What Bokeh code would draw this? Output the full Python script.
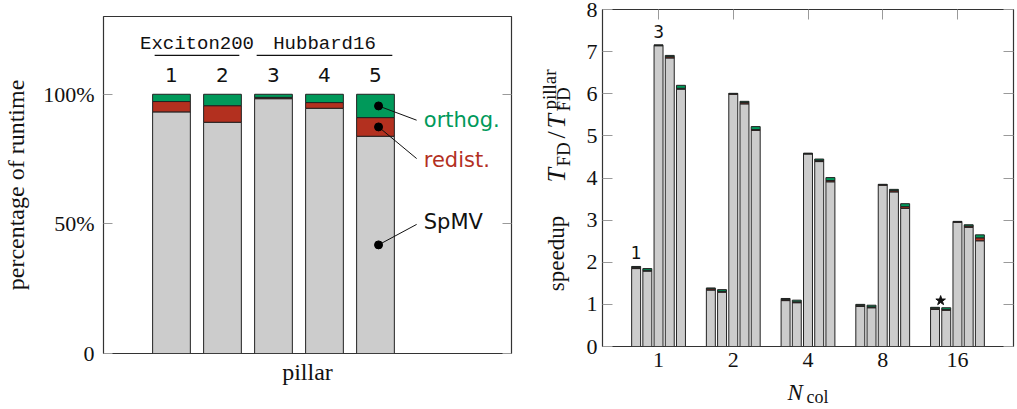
import numpy as np
from bokeh.plotting import figure
from bokeh.models import Range1d, FixedTicker, LinearAxis, CustomJSTickFormatter
from bokeh.layouts import row, column
from bokeh.embed import file_html
from bokeh.resources import INLINE
from bokeh.core.properties import value

# ---------------- data ----------------
# left panel: share of runtime (%) per matrix
matrices = ["1", "2", "3", "4", "5"]
matrix_groups = ["Exciton200", "Hubbard16"]
group_members = [[0, 1], [2, 3, 4]]
share_spmv = [93.2, 89.2, 98.3, 94.6, 83.8]
share_redist = [4.0, 6.4, 0.5, 2.2, 7.2]
share_orthog = [2.8, 4.4, 1.2, 3.2, 9.0]
pct_ticks = [0, 50, 100]
pct_tick_labels = ["0", "50%", "100%"]
part_names = ["orthog.", "redist.", "SpMV"]

# right panel: speedup T_FD / T_FD^pillar, per N_col, one list per matrix
ncol_labels = ["1", "2", "4", "8", "16"]
speedup_total = [
    [1.90, 1.39, 1.14, 1.00, 0.93],   # matrix 1
    [1.85, 1.35, 1.10, 0.98, 0.92],   # matrix 2
    [7.16, 6.01, 4.59, 3.85, 2.97],   # matrix 3
    [6.91, 5.82, 4.45, 3.73, 2.89],   # matrix 4
    [6.20, 5.22, 4.01, 3.39, 2.65],   # matrix 5
]
speedup_orthog = [
    [0.02, 0.02, 0.02, 0.02, 0.02],
    [0.04, 0.04, 0.04, 0.04, 0.04],
    [0.01, 0.01, 0.01, 0.01, 0.01],
    [0.03, 0.03, 0.03, 0.03, 0.03],
    [0.07, 0.07, 0.07, 0.07, 0.07],
]
speedup_redist = [
    [0.03, 0.03, 0.03, 0.03, 0.03],
    [0.02, 0.02, 0.02, 0.02, 0.02],
    [0.01, 0.01, 0.01, 0.01, 0.01],
    [0.03, 0.03, 0.03, 0.03, 0.03],
    [0.02, 0.02, 0.03, 0.04, 0.07],
]
speedup_ticks = [0, 1, 2, 3, 4, 5, 6, 7, 8]

# ---------------- style ----------------
SERIF = "Liberation Serif"
SANS = "DejaVu Sans"
MONO = "Liberation Mono"
GREY = "#cccccc"
RED = "#b3301f"
GREEN = "#00995a"
EDGE = "#222222"
TICK = "#9a9a9a"
FRAME = "#333333"
INK = "#111111"
BL_FIX = 6  # px: lift for alphabetic baselines in the svg output


def style_axis(ax, tick_in=9):
    ax.axis_line_color = None
    ax.major_tick_in = tick_in
    ax.major_tick_out = 0
    ax.minor_tick_line_color = None
    ax.major_tick_line_color = TICK
    ax.major_tick_line_width = 1
    ax.major_label_text_font = SERIF
    ax.major_label_text_font_size = "22px"
    ax.major_label_text_color = INK


def mirror_axis(ticks, tick_in):
    ax = LinearAxis(ticker=FixedTicker(ticks=ticks),
                    formatter=CustomJSTickFormatter(code="return ''"))
    style_axis(ax, tick_in)
    ax.major_label_standoff = 0
    ax.major_label_text_font_size = "0px"
    return ax


def blank_fig(w, h):
    f = figure(width=w, height=h, x_range=Range1d(0, w), y_range=Range1d(0, h),
               output_backend="svg", toolbar_location=None, min_border=0)
    f.axis.visible = False
    f.xgrid.visible = False
    f.ygrid.visible = False
    f.outline_line_color = None
    f.frame_align = False
    return f


# ================= left panel =================
pL = figure(width=520, height=409, x_range=Range1d(-4, 4), y_range=Range1d(0, 130),
            output_backend="svg", toolbar_location=None,
            min_border_left=102, min_border_right=9, min_border_top=16, min_border_bottom=56)
pL.frame_align = False
pL.xgrid.visible = False
pL.ygrid.visible = False
pL.outline_line_color = FRAME
pL.outline_line_width = 1.2

style_axis(pL.yaxis[0])
pL.yaxis.ticker = FixedTicker(ticks=pct_ticks)
pL.yaxis.major_label_overrides = dict(zip(pct_ticks, pct_tick_labels))
pL.yaxis.major_label_standoff = 9
pL.yaxis.axis_label = "percentage of runtime"
pL.yaxis.axis_label_text_font = SERIF
pL.yaxis.axis_label_text_font_style = "normal"
pL.yaxis.axis_label_text_font_size = "24px"
pL.yaxis.axis_label_text_color = INK
pL.yaxis.axis_label_standoff = 11

style_axis(pL.xaxis[0], 0)
pL.xaxis.ticker = FixedTicker(ticks=[0])
pL.xaxis.major_label_overrides = {0: "pillar"}
pL.xaxis.major_label_text_font_size = "24px"
pL.xaxis.major_label_standoff = 5

pL.add_layout(mirror_axis(pct_ticks, 9), "right")

BAR_W_L = 0.74
xs_L = [i - 2.667 for i in range(len(matrices))]
bot = [0.0] * 5
for vals, col in [(share_spmv, GREY), (share_redist, RED), (share_orthog, GREEN)]:
    top = [b + v for b, v in zip(bot, vals)]
    pL.vbar(x=xs_L, width=BAR_W_L, bottom=bot, top=top, fill_color=col,
            line_color=EDGE, line_width=1)
    bot = top

pL.text(x=xs_L, y=[105] * 5, text=matrices, text_font=value(SANS), text_font_size="20px",
        text_align="center", text_baseline="alphabetic", text_color=INK, y_offset=-BL_FIX)

grp_x = [np.mean([xs_L[i] for i in m]) for m in group_members]
pL.text(x=grp_x, y=[117, 117], text=matrix_groups, text_font=value(MONO),
        text_font_size="19px", text_align="center", text_baseline="alphabetic",
        text_color=INK, y_offset=-BL_FIX)
inset = 0.04
pL.segment(x0=[xs_L[m[0]] - BAR_W_L / 2 + inset for m in group_members],
           x1=[xs_L[m[-1]] + BAR_W_L / 2 - inset for m in group_members],
           y0=[115, 115], y1=[115, 115], line_color=INK, line_width=1.2)

# callouts on bar 5
k = 4
mid_orthog = share_spmv[k] + share_redist[k] + share_orthog[k] / 2
mid_redist = share_spmv[k] + share_redist[k] / 2
mid_spmv = share_spmv[k] / 2
dot_x = xs_L[k] + 0.06
dot_y = [mid_orthog, mid_redist, mid_spmv]
end_y = [90.0, 75.2, 49.8]
pL.segment(x0=[dot_x] * 3, y0=dot_y, x1=[2.14] * 3, y1=end_y, line_color=INK, line_width=1)
pL.scatter(x=[dot_x] * 3, y=dot_y, size=8, color="#000000")
pL.text(x=[2.28] * 3, y=[89.9, 74.5, 50.7], text=part_names, text_font=value(SANS),
        text_font_size="21px", text_align="left", text_baseline="middle",
        text_color=[GREEN, RED, INK])

# ================= right panel y-label strip (520..580 px) =================
YL_X0, YL_W = 520, 60
pY = blank_fig(YL_W, 409)


def ylab(text, base_px, start_py, size_px, style="normal", align="left"):
    # rotated text; base_px = wanted baseline (screen x), start_py = where text starts (screen y)
    centre = base_px - 0.34 * size_px
    pY.text(x=[centre - YL_X0], y=[409 - start_py], text=[text], angle=np.pi / 2,
            text_align=align, text_baseline="middle", text_font=value(SERIF),
            text_font_size=f"{size_px}px", text_font_style=style, text_color=INK)


ylab("speedup", 564, 253, 23, align="center")
ylab("T", 565, 182, 26, "italic")
ylab("FD", 569, 166, 19)
ylab("/", 565, 138, 26)
ylab("T", 565, 128, 26, "italic")
ylab("pillar", 555, 109, 19)
ylab("FD", 569, 111, 19)

# ================= right panel =================
R_X0 = YL_X0 + YL_W
W_R = 1017 - R_X0
FRAME_BOTTOM_R = 346
H_R = 377
XR = (-0.75, 4.75)
YR = (0, 8)
pR = figure(width=W_R, height=H_R, x_range=Range1d(*XR), y_range=Range1d(*YR),
            output_backend="svg", toolbar_location=None,
            min_border_left=602 - R_X0, min_border_right=4, min_border_top=9,
            min_border_bottom=H_R - FRAME_BOTTOM_R)
pR.frame_align = False
pR.xgrid.visible = False
pR.ygrid.visible = False
pR.outline_line_color = FRAME
pR.outline_line_width = 1.2

style_axis(pR.yaxis[0], 10)
pR.yaxis.ticker = FixedTicker(ticks=speedup_ticks)
pR.yaxis.major_label_standoff = 5

style_axis(pR.xaxis[0], 0)
pR.xaxis.ticker = FixedTicker(ticks=list(range(len(ncol_labels))))
pR.xaxis.major_label_overrides = {i: s for i, s in enumerate(ncol_labels)}
pR.xaxis.major_label_standoff = 6

pR.add_layout(mirror_axis(speedup_ticks, 10), "right")
pR.add_layout(mirror_axis(list(range(len(ncol_labels))), 10), "above")

STEP_R, BAR_W_R = 0.15, 0.12
for j in range(5):
    xs = [g + (j - 2) * STEP_R for g in range(len(ncol_labels))]
    tot = speedup_total[j]
    o = speedup_orthog[j]
    r = speedup_redist[j]
    grey_top = [t - a - b for t, a, b in zip(tot, o, r)]
    red_top = [t - a for t, a in zip(tot, o)]
    pR.vbar(x=xs, width=BAR_W_R, bottom=0, top=grey_top, fill_color=GREY, line_color=EDGE, line_width=1)
    pR.vbar(x=xs, width=BAR_W_R, bottom=grey_top, top=red_top, fill_color=RED, line_color=EDGE, line_width=1)
    pR.vbar(x=xs, width=BAR_W_R, bottom=red_top, top=tot, fill_color=GREEN, line_color=EDGE, line_width=1)

# matrix markers above group N_col = 1
mark_x = [0 + (0 - 2) * STEP_R, 0 + (2 - 2) * STEP_R]
mark_y = [speedup_total[0][0] + 0.18, speedup_total[2][0] + 0.17]
pR.text(x=mark_x, y=mark_y, text=["1", "3"], text_font=value(SANS), text_font_size="17px",
        text_align="center", text_baseline="alphabetic", text_color=INK, y_offset=-BL_FIX)
star_x = 4 + ((0 - 2) + (1 - 2)) / 2 * STEP_R
pR.scatter(x=[star_x], y=[1.09], marker="star", size=10, color=INK)

# ================= right panel x-label strip =================
XL_H = 409 - H_R
pX = blank_fig(W_R, XL_H)
pX.text(x=[787 - R_X0], y=[409 - 398 + BL_FIX], text=["N"], text_align="left",
        text_baseline="alphabetic", text_font=value(SERIF), text_font_size="23px",
        text_font_style="italic", text_color=INK)
pX.text(x=[806 - R_X0], y=[409 - 402 + BL_FIX], text=["col"], text_align="left",
        text_baseline="alphabetic", text_font=value(SERIF), text_font_size="18px",
        text_color=INK)

layout = row(pL, pY, column(pR, pX))
open("out.html", "w").write(file_html(layout, INLINE))
